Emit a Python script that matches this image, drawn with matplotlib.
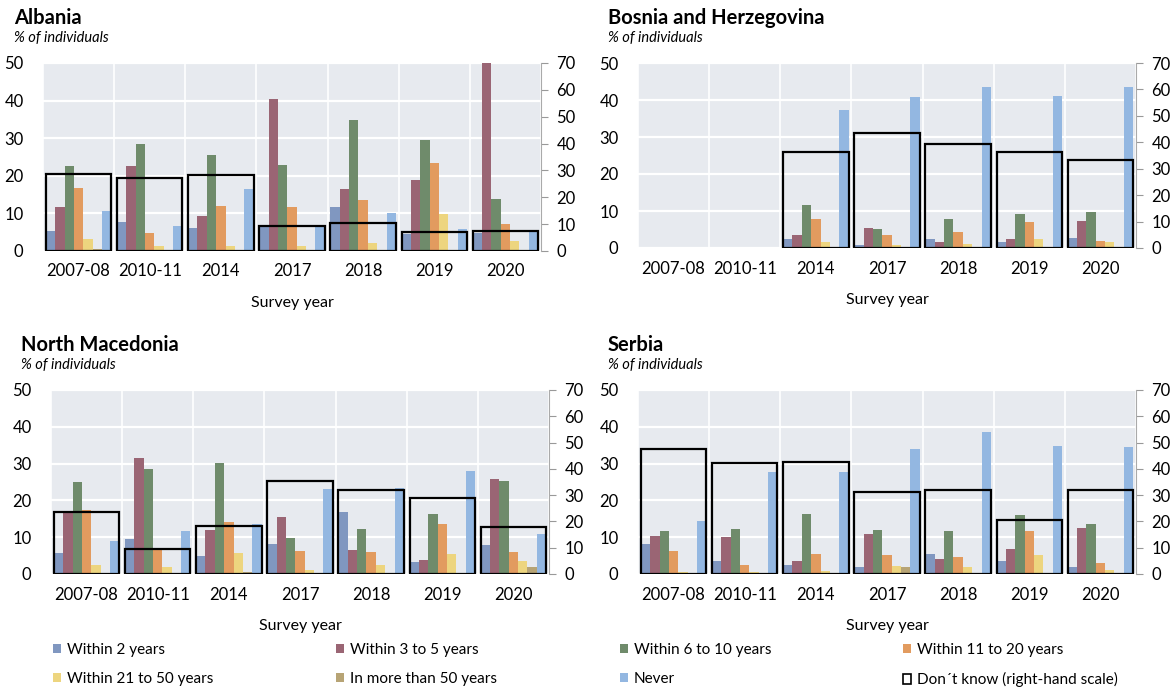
import numpy as np
import matplotlib
matplotlib.use('Agg')
import matplotlib.pyplot as plt
from matplotlib.patches import Patch

plt.rcParams['font.family'] = ['Lato', 'DejaVu Sans']

# Survey years and answer categories
years = ['2007-08', '2010-11', '2014', '2017', '2018', '2019', '2020']
series = ['Within 2 years', 'Within 3 to 5 years', 'Within 6 to 10 years',
          'Within 11 to 20 years', 'Within 21 to 50 years',
          'In more than 50 years', 'Never']
colors = ['#8097c0', '#9a6574', '#6f8b6b', '#e29b5f', '#edd57f', '#b7a475', '#93b7e1']

na = np.nan

# rows follow the order of `series`, columns follow `years` (left-hand scale)
albania = [
    [5.3, 7.8, 6.0, 6.5, 11.7, 4.5, 4.7],
    [11.6, 22.5, 9.4, 40.4, 16.6, 18.8, 50.0],
    [22.6, 28.4, 25.6, 22.9, 34.8, 29.5, 13.9],
    [16.8, 4.9, 11.9, 11.6, 13.5, 23.5, 7.2],
    [3.3, 1.4, 1.4, 1.4, 2.1, 9.9, 2.7],
    [0.5, 0.0, 0.3, 0.3, 0.0, 0.0, 0.0],
    [10.7, 6.7, 16.4, 6.3, 10.0, 5.9, 5.3],
]
albania_dk = [28.5, 27.0, 28.2, 9.2, 10.4, 7.2, 7.5]

bosnia = [
    [na, na, 2.4, 0.7, 2.5, 1.6, 2.7],
    [na, na, 3.4, 5.4, 1.6, 2.5, 7.3],
    [na, na, 11.6, 5.1, 7.8, 9.1, 9.6],
    [na, na, 7.8, 3.4, 4.3, 6.9, 1.9],
    [na, na, 1.6, 0.7, 1.0, 2.4, 1.6],
    [na, na, 0.0, 0.0, 0.0, 0.0, 0.0],
    [na, na, 37.3, 40.9, 43.6, 41.1, 43.6],
]
bosnia_dk = [na, na, 36.2, 43.7, 39.4, 36.2, 33.2]

north_macedonia = [
    [5.8, 9.5, 5.0, 8.2, 16.8, 3.3, 8.0],
    [16.7, 31.5, 12.0, 15.6, 6.4, 3.9, 25.9],
    [25.0, 28.5, 30.2, 9.9, 12.3, 16.2, 25.2],
    [17.5, 6.8, 14.1, 6.2, 6.1, 13.7, 6.1],
    [2.4, 2.0, 5.6, 1.2, 2.5, 5.4, 3.6],
    [0.0, 0.0, 0.6, 0.0, 0.0, 0.4, 1.8],
    [8.9, 11.7, 13.6, 23.1, 23.5, 27.9, 11.0],
]
north_macedonia_dk = [23.4, 9.6, 18.2, 35.3, 31.8, 28.9, 17.7]

serbia = [
    [8.2, 3.4, 2.4, 1.9, 5.5, 3.4, 1.9],
    [10.4, 10.1, 3.4, 10.9, 4.2, 6.8, 12.4],
    [11.6, 12.2, 16.2, 11.9, 11.6, 16.0, 13.7],
    [6.3, 2.4, 5.5, 5.1, 4.7, 11.8, 2.9],
    [0.5, 0.5, 0.9, 2.2, 1.9, 5.2, 1.2],
    [0.0, 0.0, 0.0, 1.9, 0.4, 0.4, 0.0],
    [14.5, 27.8, 27.8, 33.9, 38.7, 34.7, 34.4],
]
serbia_dk = [47.5, 42.3, 42.7, 31.1, 32.0, 20.6, 32.0]

W, H = 1176, 687
fig = plt.figure(figsize=(W / 100, H / 100), dpi=100)


def px(x0, y_top, x1, y_bot):
    # pixel box -> figure fraction rect
    return [x0 / W, 1 - y_bot / H, (x1 - x0) / W, (y_bot - y_top) / H]


def draw_panel(rect, title, title_xy, vals, dk):
    ax = fig.add_axes(rect)
    ax.set_facecolor('#e7eaef')
    x = np.arange(len(years))
    group = 0.92
    bw = group / len(series)
    for i, (vals_i, c) in enumerate(zip(vals, colors)):
        ax.bar(x + (i - 3) * bw, vals_i, width=bw, color=c, zorder=2)
    ax.set_xlim(-0.5, len(years) - 0.5)
    ax.set_ylim(0, 50)
    ax.set_yticks(range(0, 51, 10))
    ax.set_xticks(x)
    ax.set_xticklabels(years, fontsize=12)
    ax.set_xticks(np.arange(-0.5, len(years)), minor=True)
    ax.grid(True, which='minor', axis='x', color='white', lw=1.2, zorder=1)
    ax.grid(True, which='major', axis='y', color='white', lw=1.6, zorder=1)
    ax.tick_params(axis='both', which='both', length=0, labelsize=12, pad=9)
    ax.tick_params(axis='y', pad=14)
    for s in ax.spines.values():
        s.set_visible(False)
    ax.set_xlabel('Survey year', fontsize=11.5, labelpad=12)

    # "Don't know" boxes on the right-hand scale
    ax2 = ax.twinx()
    ax2.bar(x, dk, width=group, facecolor='none', edgecolor='black', lw=1.6, zorder=3)
    ax2.set_ylim(0, 70)
    ax2.set_yticks(range(0, 71, 10))
    ax2.tick_params(axis='y', length=5, color='#999999', labelsize=12, pad=6)
    for k, s in ax2.spines.items():
        s.set_visible(k == 'right')
    ax2.spines['right'].set_color('#aaaaaa')

    tx, ty = title_xy
    fig.text(tx / W, 1 - ty / H, title, fontsize=14.5, fontweight='bold', va='center')
    fig.text(tx / W, 1 - (ty + 20) / H, '% of individuals', fontsize=10.5,
             style='italic', va='center')


draw_panel(px(43, 63, 541, 251), 'Albania', (14, 18), albania, albania_dk)
draw_panel(px(638, 63, 1136, 248), 'Bosnia and Herzegovina', (608, 18), bosnia, bosnia_dk)
draw_panel(px(51, 390, 549, 574), 'North Macedonia', (21, 345), north_macedonia, north_macedonia_dk)
draw_panel(px(638, 390, 1136, 574), 'Serbia', (608, 345), serbia, serbia_dk)

# legend: four columns of two entries each
handles = [Patch(facecolor=c, edgecolor='none') for c in colors]
handles.append(Patch(facecolor='white', edgecolor='black', lw=1.2))
labels = series + ['Don´t know (right-hand scale)']
col_x = [53, 336, 620, 903]
for j, cx in enumerate(col_x):
    idx = [j, j + 4]
    fig.legend([handles[k] for k in idx], [labels[k] for k in idx],
               loc='upper left', bbox_to_anchor=(cx / W, 1 - 643 / H),
               frameon=False, fontsize=11, handlelength=0.55, handleheight=0.55,
               handletextpad=0.35, labelspacing=1.0, borderaxespad=0, borderpad=0)

fig.savefig('out.png', dpi=100)
